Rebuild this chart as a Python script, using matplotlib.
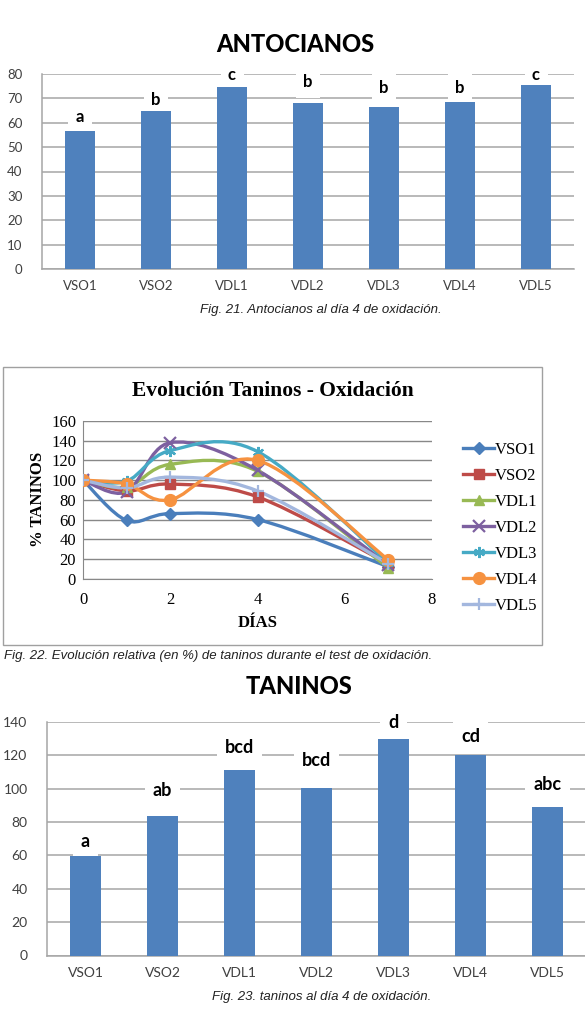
import numpy as np
import matplotlib
matplotlib.use("Agg")
import matplotlib.pyplot as plt
from matplotlib.path import Path
from matplotlib.patches import PathPatch, Rectangle
from matplotlib.lines import Line2D

# --- data ---
muestras = ["VSO1", "VSO2", "VDL1", "VDL2", "VDL3", "VDL4", "VDL5"]

antocianos = [56.6, 64.9, 74.7, 68.1, 66.6, 68.5, 75.5]
antocianos_letras = ["a", "b", "c", "b", "b", "b", "c"]
antocianos_pos_letras = [62.3, 69.3, 79.6, 76.7, 74.3, 74.3, 79.6]

dias = [0, 1, 2, 4, 7]
evol_taninos = {
    "VSO1": [100, 59, 66, 60, 12],
    "VSO2": [100, 89, 96, 83, 15],
    "VDL1": [100, 93, 116, 109, 11],
    "VDL2": [100, 88, 138, 110, 14],
    "VDL3": [100, 99, 130, 129, 16],
    "VDL4": [100, 96, 80, 120, 19],
    "VDL5": [100, 92, 103, 89, 15],
}

taninos = [59.7, 83.6, 111.4, 100.6, 129.8, 120.2, 89.2]
taninos_letras = ["a", "ab", "bcd", "bcd", "d", "cd", "abc"]
taninos_pos_letras = [68.2, 99.2, 124.8, 117.2, 139.6, 131.2, 102.6]

# --- styles ---
W, H = 585, 1026
BAR = "#4F81BD"
GRID = "#A6A6A6"
TICK = "#404040"
line_colors = ["#4A7EBB", "#BE4B48", "#98B954", "#7D60A0", "#46AAC5", "#F69240", "#A3B7DE"]
line_markers = ["D", "s", "^", "x", (6, 2, 0), "o", "+"]
marker_sizes = [6, 7, 7.5, 8, 8, 8.5, 9]


def rect(l, t, r, b):
    return [l / W, 1 - b / H, (r - l) / W, (b - t) / H]


def ftext(x, y, s, **kw):
    fig.text(x / W, 1 - y / H, s, **kw)


def smooth_path(x, y):
    # Excel-like smoothed line: cubic bezier through every point
    pts = np.column_stack([x, y]).astype(float)
    ext = np.vstack([pts[0], pts, pts[-1]])
    verts = [pts[0]]
    codes = [Path.MOVETO]
    for i in range(len(pts) - 1):
        p0, p1, p2, p3 = ext[i], ext[i + 1], ext[i + 2], ext[i + 3]
        verts += [p1 + (p2 - p0) / 6, p2 - (p3 - p1) / 6, p2]
        codes += [Path.CURVE4] * 3
    return Path(verts, codes)


def bar_chart(ax, values, letters, letter_pos, ymax, step, fs_letters):
    x = np.arange(len(muestras))
    ax.bar(x, values, width=0.39, color=BAR, zorder=3)
    for xi, lt, yp in zip(x, letters, letter_pos):
        ax.text(xi, yp, lt, ha="center", va="center", fontsize=fs_letters,
                fontweight="bold", family="Lato", color="black", zorder=2,
                bbox=dict(facecolor="white", edgecolor="none", boxstyle="square,pad=0.45"))
    ax.set_xlim(-0.5, len(muestras) - 0.5)
    ax.set_ylim(0, ymax)
    ax.set_yticks(np.arange(0, ymax + 1, step))
    ax.set_xticks(x)
    ax.set_xticklabels(muestras)
    ax.grid(axis="y", color=GRID, lw=1.1, zorder=0)
    ax.set_axisbelow(True)
    for s in ["top", "right"]:
        ax.spines[s].set_visible(False)
    for s in ["left", "bottom"]:
        ax.spines[s].set_color(GRID)
        ax.spines[s].set_linewidth(1.1)
    ax.tick_params(length=0, colors=TICK, labelsize=9.5, pad=8)
    for lab in ax.get_xticklabels() + ax.get_yticklabels():
        lab.set_family("Lato")


fig = plt.figure(figsize=(W / 100, H / 100), dpi=100)

# --- Fig. 21 ---
ax1 = fig.add_axes(rect(42, 74, 574, 269))
bar_chart(ax1, antocianos, antocianos_letras, antocianos_pos_letras, 80, 10, 12)
ax1.tick_params(axis="y", pad=14)
ftext(295, 44, "ANTOCIANOS", ha="center", va="center", fontsize=17,
      fontweight=900, family="Lato")
ftext(321, 310, "Fig. 21. Antocianos al día 4 de oxidación.", ha="center",
      va="center", fontsize=9.5, style="italic", family="Liberation Sans", color="#222222")

# --- Fig. 22 ---
fig.add_artist(Rectangle((3 / W, 1 - 645 / H), 539 / W, 278 / H, transform=fig.transFigure,
                         fill=False, edgecolor="#A0A0A0", lw=1.0))
ax2 = fig.add_axes(rect(83, 421, 432, 578.6))
handles = []
for (name, vals), c, m, ms in zip(evol_taninos.items(), line_colors, line_markers, marker_sizes):
    ax2.add_patch(PathPatch(smooth_path(dias, vals), fill=False, edgecolor=c, lw=2.4,
                            capstyle="round", joinstyle="round", zorder=3))
    mew = 1.6 if m in ("x", "+") or isinstance(m, tuple) else 1
    ax2.plot(dias, vals, ls="none", marker=m, ms=ms, color=c, mec=c, mew=mew, zorder=4)
    handles.append(Line2D([], [], color=c, lw=2.4, marker=m, ms=ms, mec=c, mew=mew))
ax2.set_xlim(0, 8)
ax2.set_ylim(0, 160)
ax2.set_xticks([0, 2, 4, 6, 8])
ax2.set_yticks(np.arange(0, 161, 20))
ax2.grid(axis="y", color="#888888", lw=1.0, zorder=0)
ax2.set_axisbelow(True)
for s in ["top", "right"]:
    ax2.spines[s].set_visible(False)
for s in ["left", "bottom"]:
    ax2.spines[s].set_color("#888888")
ax2.tick_params(length=0, labelsize=12, pad=5, colors="black")
for lab in ax2.get_xticklabels() + ax2.get_yticklabels():
    lab.set_family("Liberation Serif")
ax2.tick_params(axis="x", pad=10)
ax2.set_xlabel("DÍAS", family="Liberation Serif", fontweight="bold", fontsize=12, labelpad=5)
ax2.set_ylabel("% TANINOS", family="Liberation Serif", fontweight="bold", fontsize=12, labelpad=4)
ftext(273, 391, "Evolución Taninos - Oxidación", ha="center", va="center", fontsize=15.5,
      fontweight="bold", family="Liberation Serif")
fig.legend(handles, list(evol_taninos.keys()), loc="upper left",
           bbox_to_anchor=(456 / W, 1 - 435 / H), frameon=False, handlelength=1.9,
           handletextpad=0.0, labelspacing=0.6, borderaxespad=0,
           prop={"family": "Liberation Serif", "size": 12})
ftext(4, 656, "Fig. 22. Evolución relativa (en %) de taninos durante el test de oxidación.",
      ha="left", va="center", fontsize=9.5, style="italic", family="Liberation Sans",
      color="#222222")

# --- Fig. 23 ---
ax3 = fig.add_axes(rect(47, 722, 586, 955.5))
bar_chart(ax3, taninos, taninos_letras, taninos_pos_letras, 140, 20, 13)
ax3.tick_params(axis="y", pad=14)
ax3.tick_params(labelsize=10)
ftext(299, 686, "TANINOS", ha="center", va="center", fontsize=17,
      fontweight=900, family="Lato")
ftext(322, 997, "Fig. 23. taninos al día 4 de oxidación.", ha="center",
      va="center", fontsize=9.5, style="italic", family="Liberation Sans", color="#222222")

fig.savefig("out.png", dpi=100)
